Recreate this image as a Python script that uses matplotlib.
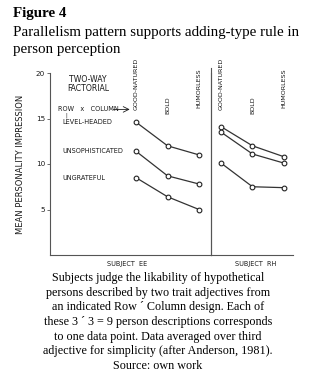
import matplotlib.pyplot as plt

# column adjectives (x categories) and row adjectives (series)
columns = ["GOOD-NATURED", "BOLD", "HUMORLESS"]
rows = ["LEVEL-HEADED", "UNSOPHISTICATED", "UNGRATEFUL"]
yticks = [5, 10, 15, 20]

# subject EE
ee_level_headed = [14.6, 12.0, 11.0]
ee_unsophisticated = [11.4, 8.7, 7.8]
ee_ungrateful = [8.5, 6.4, 5.0]

# subject RH
rh_level_headed = [14.1, 12.0, 10.8]
rh_unsophisticated = [13.5, 11.1, 10.1]
rh_ungrateful = [10.1, 7.5, 7.4]

W, H = 320, 379
fig = plt.figure(figsize=(W / 100, H / 100), dpi=100)

small = ['Liberation Sans Narrow', 'DejaVu Sans']
serif = ['Liberation Serif', 'DejaVu Serif']
ink = '#1a1a1a'


def frac(x0, y0, x1, y1):
    return [x0 / W, 1 - y1 / H, (x1 - x0) / W, (y1 - y0) / H]


ax1 = fig.add_axes(frac(50, 73, 211, 255))
ax2 = fig.add_axes(frac(211, 73, 293, 255))

xs = [0, 1, 2]
for ax, series in ((ax1, [ee_level_headed, ee_unsophisticated, ee_ungrateful]),
                   (ax2, [rh_level_headed, rh_unsophisticated, rh_ungrateful])):
    for s in series:
        ax.plot(xs, s, color='#333333', lw=0.9, marker='o', ms=3.4,
                mfc='white', mec='#222222', mew=0.8)
    ax.set_ylim(0, 20)
    for sp in ('top', 'right'):
        ax.spines[sp].set_visible(False)
    ax.spines['left'].set_color('#555555')
    ax.spines['bottom'].set_color('#555555')
    ax.spines['left'].set_linewidth(0.8)
    ax.spines['bottom'].set_linewidth(0.8)
    ax.set_xticks([])
    for x, name in zip(xs, columns):
        ypos = {0: 18.8, 1: 16.5, 2: 18.35}[x]
        ax.text(x, ypos, name, rotation=90, ha='center', va='center',
                fontsize=4.6, family=small, color=ink, clip_on=False)

ax1.set_xlim(-2.73, 2.38)
ax2.set_xlim(-0.32, 2.29)

ax1.set_yticks(yticks)
ax1.set_yticklabels([str(t) for t in yticks], fontsize=5.2, family=small, color=ink)
ax1.tick_params(axis='y', length=2.5, width=0.6, pad=1, colors='#555555',
                labelcolor=ink)
ax2.set_yticks([])
ax2.plot([0, 0], [0, 20.6], transform=ax2.get_yaxis_transform(), color='#555555',
         lw=0.8, clip_on=False)

ax1.set_ylabel("MEAN PERSONALITY IMPRESSION", fontsize=6, family=small,
               color=ink, labelpad=8)

# annotations inside left panel
ax1.text(-1.52, 18.8, "TWO-WAY\nFACTORIAL", ha='center', va='center',
         fontsize=5.6, family=small, color=ink, linespacing=1.1)
ax1.text(-2.48, 16.0, "ROW   x   COLUMN", ha='left', va='center',
         fontsize=4.7, family=small, color=ink)
ax1.annotate("", xy=(-0.2, 16.0), xytext=(-0.72, 16.0),
             arrowprops=dict(arrowstyle='->', lw=0.6, color=ink,
                             shrinkA=0, shrinkB=0))
ax1.text(-2.2, 15.4, "|", ha='center', va='center', fontsize=3.5,
         family=small, color=ink)
for name, y in zip(rows, [14.6, 11.4, 8.5]):
    ax1.text(-2.35, y, name, ha='left', va='center', fontsize=4.7,
             family=small, color=ink)

ax1.text(-0.28, -0.7, "SUBJECT  EE", ha='center', va='top', fontsize=4.7,
         family=small, color=ink)
ax2.text(1.1, -0.7, "SUBJECT  RH", ha='center', va='top', fontsize=4.7,
         family=small, color=ink)

# heading and caption
fig.text(13 / W, 1 - 13 / H, "Figure 4", ha='left', va='center',
         fontsize=10.8, fontweight='bold', family=serif)
fig.text(13 / W, 1 - 41 / H,
         "Parallelism pattern supports adding-type rule in\nperson perception",
         ha='left', va='center', fontsize=10.8, family=serif, linespacing=1.35)

caption = ("Subjects judge the likability of hypothetical\n"
           "persons described by two trait adjectives from\n"
           "an indicated Row \u00b4 Column design. Each of\n"
           "these 3 \u00b4 3 = 9 person descriptions corresponds\n"
           "to one data point. Data averaged over third\n"
           "adjective for simplicity (after Anderson, 1981).\n"
           "Source: own work")
fig.text(158 / W, 1 - 322 / H, caption, ha='center', va='center',
         fontsize=8.7, family=serif, linespacing=1.3)

fig.savefig("out.png", dpi=100)
